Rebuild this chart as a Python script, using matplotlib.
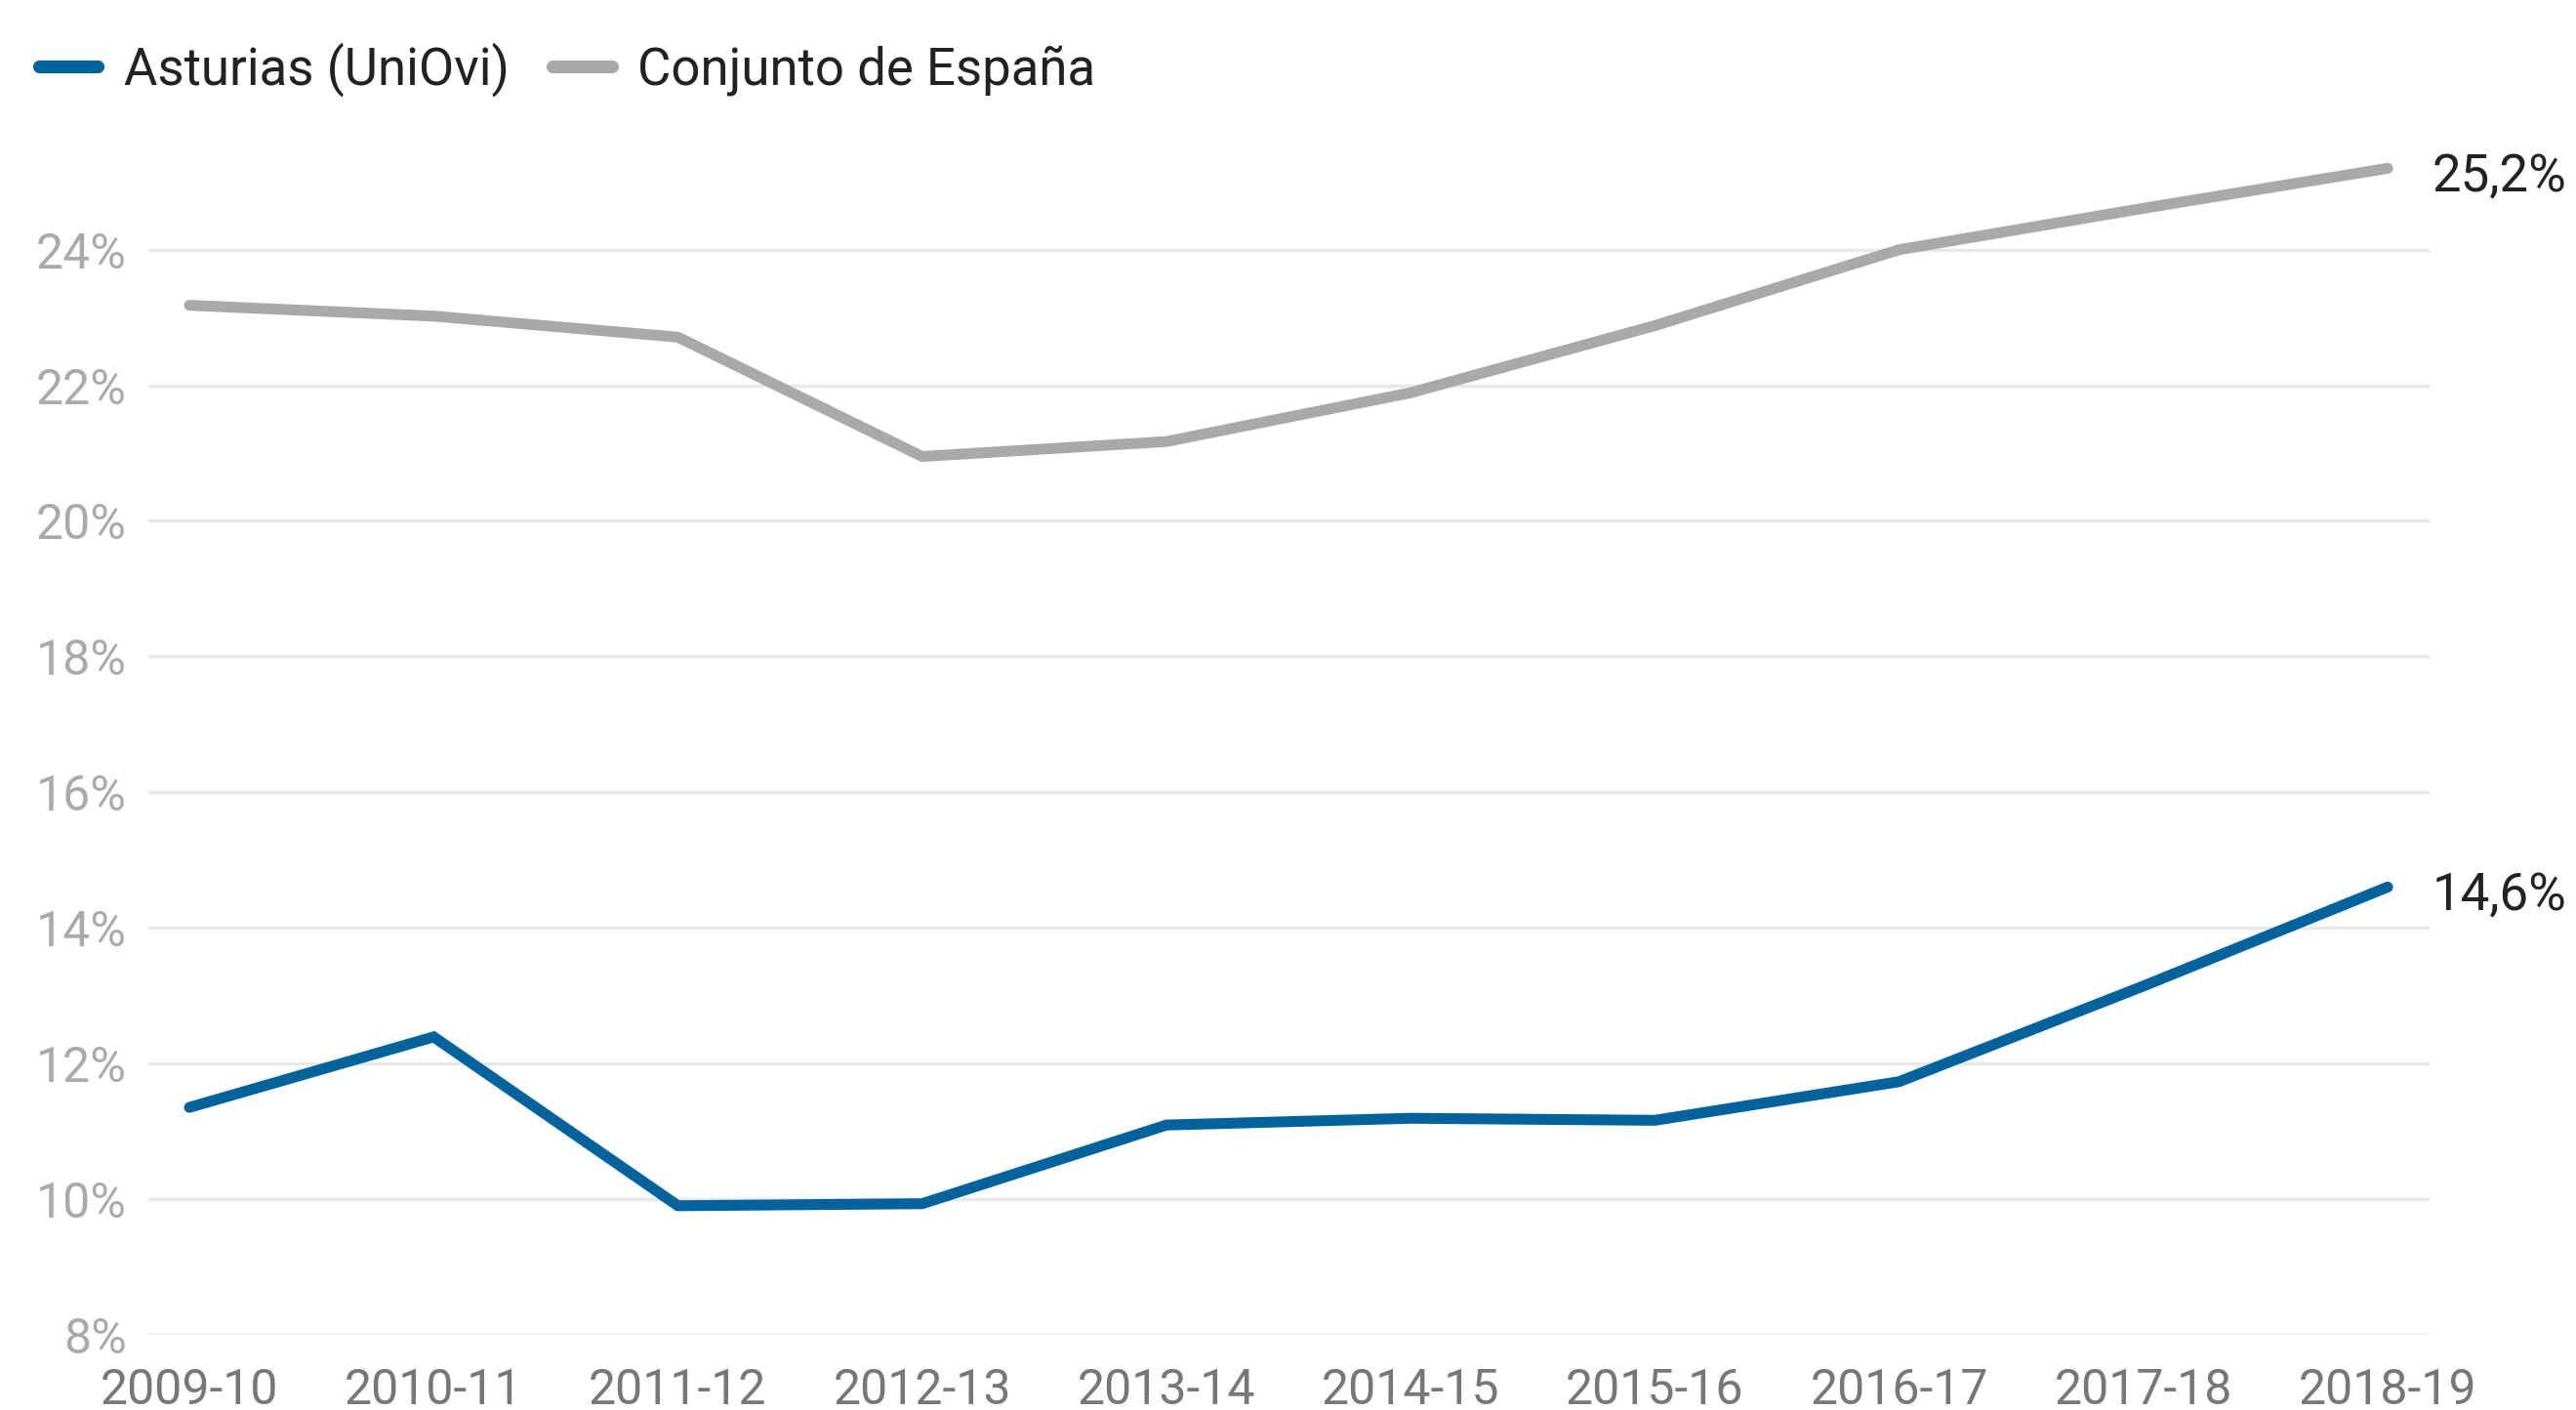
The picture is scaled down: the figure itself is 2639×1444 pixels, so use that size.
import numpy as np
import matplotlib.pyplot as plt

plt.rcParams['font.family'] = ['Roboto', 'DejaVu Sans']

# datos
cursos = ['2009-10', '2010-11', '2011-12', '2012-13', '2013-14',
          '2014-15', '2015-16', '2016-17', '2017-18', '2018-19']
asturias = [11.35, 12.39, 9.90, 9.93, 11.09, 11.19, 11.16, 11.73, 13.14, 14.6]
espana = [23.18, 23.02, 22.71, 20.95, 21.17, 21.89, 22.88, 24.0, 24.61, 25.2]
yticks = [8, 10, 12, 14, 16, 18, 20, 22, 24]

azul = '#00639e'
gris = '#a9a9a9'

fig = plt.figure(figsize=(26.39, 14.44), dpi=100)
ax = fig.add_axes([0.0576, 0.0535, 0.8856, 0.8656])

x = np.arange(len(cursos))
ax.plot(x, asturias, color=azul, lw=8, solid_capstyle='round',
        solid_joinstyle='miter', label='Asturias (UniOvi)', zorder=3)
ax.plot(x, espana, color=gris, lw=8, solid_capstyle='round',
        solid_joinstyle='miter', label='Conjunto de España', zorder=3)

# etiquetas al final de cada serie
for serie in [asturias, espana]:
    txt = f'{serie[-1]:.1f}%'.replace('.', ',')
    ax.annotate(txt, (x[-1], serie[-1]), xytext=(33, -6), textcoords='offset points',
                va='center', ha='left', fontsize=38, color='#222222',
                annotation_clip=False)

ax.set_xlim(-0.168, len(cursos) - 1 + 0.172)
ax.set_ylim(8, 26)
ax.set_xticks(x)
ax.set_xticklabels(cursos)
ax.set_yticks(yticks)
ax.set_yticklabels([f'{v}%' for v in yticks])

ax.grid(axis='y', color='#e8e8e8', lw=2.5, zorder=0)
ax.set_axisbelow(True)
for s in ax.spines.values():
    s.set_visible(False)
ax.tick_params(axis='both', length=0)
ax.tick_params(axis='y', labelsize=36, labelcolor='#aaaaaa', pad=16)
ax.tick_params(axis='x', labelsize=36, labelcolor='#777777', pad=24)

leg = fig.legend(loc='center left', bbox_to_anchor=(-0.003, 0.951), ncol=2,
                 frameon=False, fontsize=38, handlelength=1.15,
                 handletextpad=0.5, columnspacing=0.85)
for h in leg.get_lines():
    h.set_linewidth(9.5)
    h.set_solid_capstyle('round')
for t in leg.get_texts():
    t.set_color('#222222')

fig.savefig('out.png', dpi=100)
